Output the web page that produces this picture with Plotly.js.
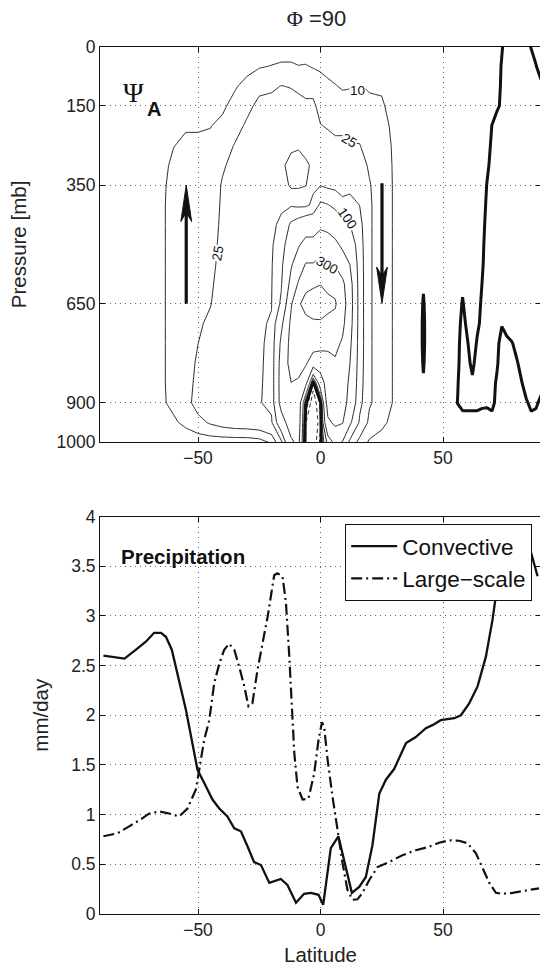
<!DOCTYPE html>
<html>
<head>
<meta charset="utf-8">
<script src="https://cdn.plot.ly/plotly-3.0.1.min.js"></script>
<style>
html,body{margin:0;padding:0;background:#fff;overflow:hidden;}
#chart{width:560px;height:968px;}
</style>
</head>
<body>
<div id="chart"></div>
<script>
// ---------------- Top panel: stream function Psi_A (lat x pressure) ----------------
const lat = [-90,-80,-70,-65,-60,-55,-50,-45,-40,-35,-30,-25,-20,-16,-12,-9,-6,-3,0,3,6,9,12,16,20,25,30,35,40,42,44,50,
             54,56,58,60,62,64,66,68,70,72,74,76,78,80,82,84,86,88,90];
const pressure = [0,50,100,150,200,250,300,350,400,450,500,550,600,650,700,750,800,850,900,950,1000];

// one column of Psi per latitude, top (0 mb) to bottom (1000 mb)
const psi_m90 = [1,2,3,3,3,3,3,3,3,3,3,3,3,3,3,3,3,3,3,2,1];
const psi_m80 = [1,2,3,3,3,3,3,3,3,3,3,3,3,3,3,3,3,3,3,2,1];
const psi_m70 = [1,2,3,3,4,4,5,5,5,5,5,5,5,5,5,5,5,5,5,3,1];
const psi_m65 = [1,2,3,4,5,6,7,8,8,8,8,8,8,8,8,8,8,8,8,5,1];
const psi_m60 = [2,3,4,6,8,9.7,12,13,14,14,14,14,14,14,14,14,14,14,13,8,1];
const psi_m55 = [2,4,6,7.5,9,12,15,17,19,19,19,19,19,19,19,19,19,19,19,13,2];
const psi_m50 = [2,4,6,8,9.5,11,13,15,17,18,19,20,21,22,23.5,24.9,27,29,32,20,2];
const psi_m45 = [2,4,6,8,9.7,12,14,16,18,19.5,21,22.5,23.5,24.5,27,30,33,35,37,27,2];
const psi_m40 = [2,4,6,8.5,12,17,23,26.5,27,27.5,28,28,29,30,33,36,40,42,44,32,2];
const psi_m35 = [2,5,9,13,18,26,30,32,33,34,35,36,37,39,41,43,45,46,47,35,2];
const psi_m30 = [2,7,13,20,28,33,36,38,39,40,41,42,43,44,45,46,47,48,48,36,2];
const psi_m25 = [3,9,20,30,36,40,42,43,44,45,46,46,47,47,47,46,46,47,48,38,4];
const psi_m20 = [3,10.5,22,31,37,40,42,43,44,45,46,47,48,49,52,56,58,58,58,45,12];
const psi_m16 = [3,12,25.5,34,38,41,44,47,46,55,70,85,95,110,180,220,240,245,240,150,40];
const psi_m12 = [3,12,24,33,38,44,60,51,45,110,150,190,230,290,320,330,330,299,290,260,180];
const psi_m9  = [2,10.5,22,30,35,46,64,52,40,130,190,250,310,390,370,350,330,290,270,260,230];
const psi_m6  = [2,11,20,28,33,42,54,50.5,40,150,230,305,380,425,380,350,310,230,5,-24,-30];
const psi_m3  = [2,9,20,28,35,42,46,42,60,150,230,305,390,435,390,340,250,-15,-40,-50,-40];
const psi_p0  = [2,8,15,20,25.5,32,40,48,110,180,260,320,398,440,390,330,250,150,-5,-12,-5];
const psi_p3  = [2,7,12,18,24,29,33,40,102,170,245,305,380,420,380,320,270,250,250,180,60];
const psi_p6  = [2,6,10.5,15,22,28,32,38,85,150,220,290,370,410,370,320,290,270,260,220,120];
const psi_p9  = [2,5,9,14,22,28,30,36,60,115,180,250,320,340,320,290,270,260,250,205,95];
const psi_p12 = [2,5,9.5,13,20,26,30,42,60,101,150,199,240,250,240,220,201,180,160,110,40];
const psi_p16 = [2,5,10.5,14,20,25.5,31,38,49.5,58,62,64,65,65,65,65,64,62,58,45,18];
const psi_p20 = [2,5,9,12,15,19,23,26,27,27,27,27,27,27,27,27,27,27,27,20,8];
const psi_p25 = [2,5,9,11,13,15,16,17,17,17,17,17,17,17,17,17,17,17,17,13,5];
const psi_p30 = [1,3,5,7,8,8.5,8.8,8.9,8.9,8.9,8.9,8.9,8.9,8.9,8.9,8.9,8.9,8.9,8.9,6,2];
const psi_p35 = [1,2,3,4,5,5,5,5,5,5,5,5,5,5,5,5,5,5,5,4,1];
const psi_p40 = [1,2,2.5,3,3,3,3,3,3,3,3,3,3,3,3,3,3,3,3,2,1];
const psi_p42 = [1,2,2.5,3,3,3,3,3,3,3,3,3,0.5,-0.5,-1,-1,-0.5,0.5,3,2,1];
const psi_p44 = [1,2,2.5,3,3,3,3,3,3,3,3,3,3,3,3,3,3,3,3,2,1];
const psi_p50 = [1,2,2.5,3,3,3,3,3,3,3,3,3,3,3,3,3,3,3,3,2,1];
const psi_p54 = [1,2,2.5,2.5,2.5,2.5,2.5,2.5,2.5,2.5,2.5,2.5,2,1.8,1.6,1.5,1.2,1,0.6,1.5,1];
const psi_p56 = [1,2,2.5,2.5,2.5,2.5,2.5,2.5,2.5,2.5,2.5,2,1.2,0.8,0.6,0.45,0.3,0.1,-0.05,0.8,0.5];
const psi_p58 = [1,2,2.5,2.5,2.5,2.5,2.5,2.5,2.5,2.5,2.5,1.5,0.3,-0.15,-0.5,-0.8,-0.8,-1,-0.3,0.45,0.5];
const psi_p60 = [1,2,2.5,2.5,2.5,2.5,2.5,2.5,2.5,2.5,2.5,2,1.2,0.8,0.35,-0.1,-0.5,-1,-0.3,0.45,0.5];
const psi_p62 = [1,2,2.5,2.5,2.5,2.5,2.5,2.5,2.5,2.5,2.5,2,1.8,1.5,1,0.8,0.45,-0.3,-0.3,0.45,0.5];
const psi_p64 = [1,2,2.5,2.5,2.5,2.5,2.5,2,1.8,1.5,1.3,1.2,0.9,0.6,0.3,-0.2,-0.8,-1,-0.3,0.45,0.5];
const psi_p66 = [1,2,2.5,2.5,2,1.5,1.3,1,0.7,0.5,0.35,0.2,-0.05,-0.3,-0.4,-1,-1,-1,-0.2,0.5,0.5];
const psi_p68 = [1,1.5,1.8,1.8,1,0.6,0.35,-0.1,-0.3,-0.5,-0.7,-0.8,-0.9,-1,-1,-1.2,-1,-1,-0.2,0.6,0.5];
const psi_p70 = [1,1,1.2,1,-0.05,-0.3,-0.6,-0.8,-1,-1.2,-1.3,-1.5,-1.5,-1.5,-1.3,-1,-0.8,-0.5,-0.5,0.7,0.5];
const psi_p72 = [0.6,0.5,0.5,0.3,-0.8,-1,-1.2,-1.3,-1.5,-1.5,-1.5,-1.5,-1.5,-1.5,-1,-0.4,-0.2,0.2,0.5,1,0.5];
const psi_p74 = [0.1,-0.1,-0.2,-0.3,-1.5,-1.5,-1.5,-1.5,-1.5,-1.5,-1.5,-1.5,-1.5,-1.5,-0.1,0.6,0.8,1,1,1.2,0.5];
const psi_p76 = [-0.5,-1,-1,-1,-1.5,-1.5,-1.5,-1.5,-1.5,-1.5,-1.5,-1.5,-1.5,-1.5,-1,0.6,1,1.2,1,1.2,0.5];
const psi_p78 = [-0.5,-1.2,-1.5,-1.5,-1.5,-1.5,-1.5,-1.5,-1.5,-1.5,-1.5,-1.5,-1.5,-1.5,-1.3,0.15,0.8,1,1,1.2,0.5];
const psi_p80 = [-0.5,-1.2,-1.5,-1.5,-1.5,-1.5,-1.5,-1.5,-1.5,-1.5,-1.5,-1.5,-1.5,-1.5,-1.5,-0.5,0.2,0.8,0.9,1.2,0.5];
const psi_p82 = [-0.5,-1,-1.5,-1.5,-1.5,-1.5,-1.5,-1.5,-1.5,-1.5,-1.5,-1.5,-1.5,-1.5,-1.5,-1,-0.5,0.1,0.6,1,0.5];
const psi_p84 = [-0.3,-0.8,-1.2,-1.5,-1.5,-1.5,-1.5,-1.5,-1.5,-1.5,-1.5,-1.5,-1.5,-1.5,-1.5,-1,-1,-0.6,0.15,0.8,0.5];
const psi_p86 = [0.05,-0.4,-1,-1.5,-1.5,-1.5,-1.5,-1.5,-1.5,-1.5,-1.5,-1.5,-1.5,-1.5,-1.5,-1,-1,-0.8,-0.3,0.4,0.5];
const psi_p88 = [0.5,-0.05,-0.6,-1.5,-1.5,-1.5,-1.5,-1.5,-1.5,-1.5,-1.5,-1.5,-1.5,-1.5,-1.5,-1,-1,-0.8,-0.2,0.5,0.5];
const psi_p90 = [1,0.6,-0.3,-1.5,-1.5,-1.5,-1.5,-1.5,-1.5,-1.5,-1.5,-1.5,-1.5,-1.5,-1.5,-1,-1,-0.5,0.3,0.8,0.5];

const psiColumns = [psi_m90,psi_m80,psi_m70,psi_m65,psi_m60,psi_m55,psi_m50,psi_m45,psi_m40,psi_m35,psi_m30,psi_m25,psi_m20,
  psi_m16,psi_m12,psi_m9,psi_m6,psi_m3,psi_p0,psi_p3,psi_p6,psi_p9,psi_p12,psi_p16,psi_p20,psi_p25,psi_p30,psi_p35,psi_p40,
  psi_p42,psi_p44,psi_p50,psi_p54,psi_p56,psi_p58,psi_p60,psi_p62,psi_p64,psi_p66,psi_p68,psi_p70,psi_p72,psi_p74,psi_p76,
  psi_p78,psi_p80,psi_p82,psi_p84,psi_p86,psi_p88,psi_p90];

const positiveLevels = [10,25,50,100,200,300,400];
const zeroLevels = [0];
const negativeLevels = [-10,-25];

const pressureTicks = [0,150,350,650,900,1000];
const latTicks = [-50,0,50];

// contour labels (level text, lat, pressure, angle)
const labelText = ['10','25','25','100','300'];
const labelLat  = [15.1, 11.7, -42.0, 11.0, 2.9];
const labelP    = [112, 236, 522, 434, 552];
const labelAngle = [0, 30, -80, 55, 30];

// ---------------- Bottom panel: precipitation ----------------
const convLat = [-88.6,-80,-75.3,-71.3,-67.9,-65.1,-63.1,-60.7,-54.9,-50.2,-47.5,-44.1,-41.3,-38,-35.2,-32.5,-29.8,-27.1,-24.3,-20.9,
  -16.2,-13.5,-10,-6.7,-3.9,-0.8,1.1,4.2,7.3,9.7,12.8,15.8,18.5,21.2,24,26.7,30.1,34.9,38.9,43,45.7,49.1,54.6,57.3,60.7,64.1,
  67.5,70.2,72.2,74.9,77.6,80.4,83.1,85.8,88.6];
const convective = [2.60,2.57,2.66,2.74,2.83,2.83,2.79,2.66,2.05,1.45,1.32,1.15,1.06,0.98,0.86,0.83,0.68,0.52,0.49,0.31,
  0.35,0.29,0.11,0.20,0.21,0.19,0.09,0.66,0.78,0.54,0.21,0.27,0.37,0.69,1.21,1.35,1.46,1.72,1.78,1.87,1.90,1.95,1.97,2.00,2.12,2.29,
  2.59,2.96,3.31,3.60,3.80,3.90,3.85,3.65,3.40];

const lsLat = [-88.6,-82.9,-78.1,-74,-69.9,-65.8,-61.8,-57.7,-54.3,-50.9,-49.5,-47.5,-45.4,-43.4,-41.3,-39.3,-37.3,-35.2,-33.2,-31.1,
  -29.4,-27.8,-25.7,-23.7,-21.6,-18.9,-17.6,-15.5,-14.1,-12.8,-11.7,-10.7,-9.4,-7.3,-4.9,-2.6,-0.8,0.6,1.5,2.9,4.9,6.9,9,11,13.1,
  15.1,17.1,19.9,23.3,28,33.5,38.9,44.4,48.4,52.5,56.6,60,63.4,66.1,68.9,71.6,74.3,78.4,82.4,86.5,89.2];
const largeScale = [0.78,0.81,0.88,0.94,1.01,1.03,1.01,0.98,1.06,1.25,1.45,1.75,1.95,2.32,2.52,2.66,2.72,2.66,2.49,2.29,
  2.09,2.12,2.46,2.72,2.99,3.41,3.43,3.40,3.13,2.62,2.12,1.62,1.28,1.15,1.16,1.41,1.75,1.93,1.88,1.55,1.18,0.84,0.51,0.24,0.14,
  0.145,0.21,0.34,0.47,0.52,0.59,0.64,0.675,0.715,0.74,0.735,0.71,0.61,0.47,0.31,0.21,0.20,0.21,0.23,0.245,0.255];

const seriesNames = ['Convective','Large\u2212scale'];

// ---------------- build ----------------
const FONT = 'Liberation Sans, Arial, Helvetica, sans-serif';
const INK = '#111';

function contourTrace(level, width, dash){
  return {
    type:'contour', x:lat, y:pressure, z:psiColumns, transpose:true,
    autocontour:false,
    contours:{start:level, end:level, size:1, coloring:'none', showlabels:false},
    line:{color:INK, width:width, dash:dash, smoothing:0},
    showscale:false, showlegend:false, hoverinfo:'skip', xaxis:'x', yaxis:'y'
  };
}

const traces = [];
positiveLevels.forEach(L => traces.push(contourTrace(L, 0.9, 'solid')));
negativeLevels.forEach(L => traces.push(contourTrace(L, 0.9, '4px,3px')));
zeroLevels.forEach(L => traces.push(contourTrace(L, 3, 'solid')));

traces.push({type:'scatter', mode:'lines', x:convLat, y:convective, name:seriesNames[0],
  line:{color:INK, width:2.3}, xaxis:'x2', yaxis:'y2', hoverinfo:'skip'});
traces.push({type:'scatter', mode:'lines', x:lsLat, y:largeScale, name:seriesNames[1],
  line:{color:INK, width:2.2, dash:'11px,4px,2px,4px'}, xaxis:'x2', yaxis:'y2', hoverinfo:'skip'});

const axisCommon = {
  showline:true, mirror:'ticks', linecolor:INK, linewidth:1,
  ticks:'inside', ticklen:5, tickcolor:INK, tickwidth:1,
  showgrid:true, gridcolor:'#666', griddash:'1px,4px', gridwidth:1,
  zeroline:false, tickfont:{family:FONT, size:17.5, color:'#222'}
};

const annotations = [];
labelText.forEach((t,i) => annotations.push({
  xref:'x', yref:'y', x:labelLat[i], y:labelP[i], text:t, showarrow:false,
  textangle:labelAngle[i], bgcolor:'#fff', borderpad:0,
  font:{family:FONT, size:13.5, color:INK}
}));
annotations.push({xref:'x', yref:'y', x:-76.4, y:117, text:'\u03A8', showarrow:false,
  xanchor:'center', yanchor:'middle', font:{family:'Liberation Serif, DejaVu Serif, serif', size:28, color:INK}});
annotations.push({xref:'x', yref:'y', x:-68.1, y:158, text:'<b>A</b>', showarrow:false,
  xanchor:'center', yanchor:'middle', font:{family:FONT, size:20, color:INK}});
annotations.push({xref:'x2', yref:'y2', x:-82.1, y:3.60, text:'<b>Precipitation</b>', showarrow:false,
  xanchor:'left', yanchor:'middle', font:{family:FONT, size:20.5, color:INK}});

// circulation arrows (lat, from p, to p)
const arrowLat = [-54.8, 25.1];
const arrowFrom = [650, 345];
const arrowTo = [350, 649];
const shapes = [];
arrowLat.forEach((a,i) => {
  const dir = arrowTo[i] < arrowFrom[i] ? -1 : 1; // -1 upward
  const headLen = 92, halfW = 2.2, notch = 0.75;
  const tip = arrowTo[i];
  const base = tip - dir*headLen;
  const nb = tip - dir*headLen*notch;
  shapes.push({type:'line', xref:'x', yref:'y', x0:a, x1:a, y0:arrowFrom[i], y1:nb, line:{color:INK, width:3.2}});
  shapes.push({type:'path', xref:'x', yref:'y',
    path:`M ${a} ${tip} L ${a-halfW} ${base} L ${a} ${nb} L ${a+halfW} ${base} Z`,
    fillcolor:INK, line:{color:INK, width:1}});
});

const layout = {
  width:560, height:968,
  margin:{l:100, r:19, t:0, b:0},
  paper_bgcolor:'#fff', plot_bgcolor:'#fff',
  font:{family:FONT, color:'#222'},
  showlegend:true,
  title:{text:"<span style='font-family:Liberation Serif'>\u03A6</span> =90", xref:'container', yref:'container',
         x:0.5652, y:0.981, xanchor:'center', yanchor:'middle', font:{family:FONT, size:22, color:'#222'}},
  xaxis:Object.assign({}, axisCommon, {domain:[0,1], range:[-90,90], tickvals:latTicks, anchor:'y'}),
  yaxis:Object.assign({}, axisCommon, {domain:[0.5431,0.9518], range:[1000,0], tickvals:pressureTicks,
        ticktext:pressureTicks.map(String), anchor:'x',
        title:{text:'Pressure [mb]', font:{family:FONT, size:20.5, color:'#222'}, standoff:24}}),
  xaxis2:Object.assign({}, axisCommon, {domain:[0,1], range:[-90,90], tickvals:latTicks, anchor:'y2',
        title:{text:'Latitude', font:{family:FONT, size:20.5, color:'#222'}, standoff:8}}),
  yaxis2:Object.assign({}, axisCommon, {domain:[0.0561,0.4662], range:[0,4], dtick:0.5, tick0:0, anchor:'x2',
        title:{text:'mm/day', font:{family:FONT, size:20.5, color:'#222'}, standoff:16}}),
  legend:{x:0.98, y:0.4587, xanchor:'right', yanchor:'top', bgcolor:'#fff', bordercolor:INK, borderwidth:1,
          font:{family:FONT, size:22.5, color:'#111'}, itemwidth:46, tracegroupgap:0},
  annotations:annotations,
  shapes:shapes
};

Plotly.newPlot('chart', traces, layout, {displayModeBar:false, staticPlot:true});
</script>
</body>
</html>
